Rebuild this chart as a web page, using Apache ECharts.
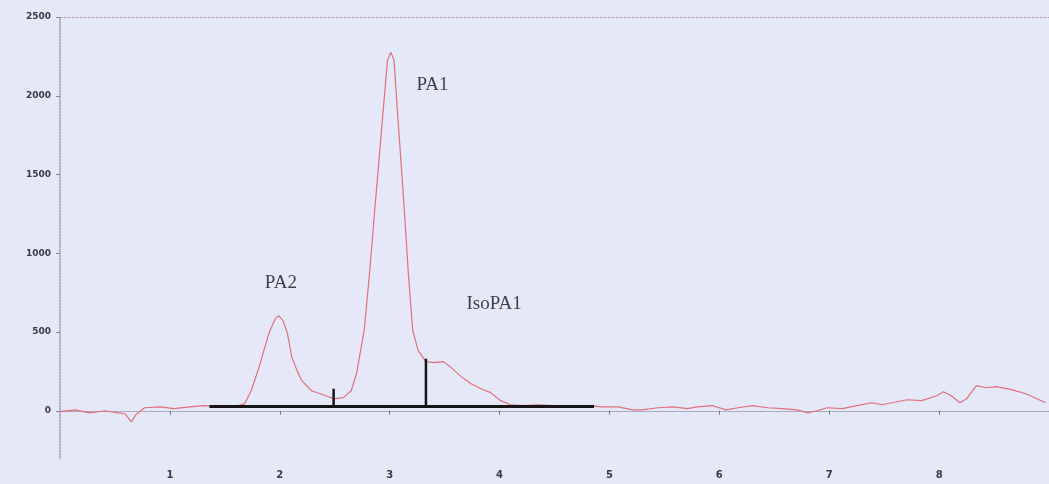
<!DOCTYPE html>
<html>
<head>
<meta charset="utf-8">
<style>
  html, body { margin: 0; padding: 0; background: #e5e8f6; }
  #chart { width: 1049px; height: 484px; }
</style>
<script src="https://cdn.jsdelivr.net/npm/echarts@6/dist/echarts.min.js"></script>
</head>
<body>
<div id="chart"></div>
<script>
// Chromatogram trace: retention time (min) and detector signal
const times = [
  0, 0.14, 0.27, 0.41, 0.53, 0.59, 0.65, 0.69, 0.77, 0.91, 1.04, 1.18, 1.31, 1.45, 1.59,
  1.68, 1.74, 1.81, 1.90, 1.96, 1.99, 2.03, 2.07, 2.11, 2.16, 2.20, 2.29, 2.42, 2.49,
  2.58, 2.65, 2.70, 2.77, 2.82, 2.86, 2.91, 2.95, 2.98, 3.01, 3.04, 3.07, 3.12, 3.15,
  3.17, 3.21, 3.26, 3.33, 3.40, 3.49, 3.55, 3.64, 3.74, 3.83, 3.92, 4.01, 4.10, 4.22,
  4.35, 4.49, 4.62, 4.80, 4.94, 5.08, 5.21, 5.30, 5.44, 5.58, 5.71, 5.80, 5.94, 6.06,
  6.17, 6.30, 6.44, 6.57, 6.71, 6.80, 6.89, 6.98, 7.12, 7.25, 7.39, 7.48, 7.57, 7.71,
  7.84, 7.98, 8.04, 8.11, 8.19, 8.25, 8.34, 8.43, 8.52, 8.66, 8.79, 8.97
];
const signal = [
  -6, 6, -13, 0, -13, -19, -70, -25, 19, 25, 13, 25, 32, 25, 25,
  45, 127, 274, 490, 585, 604, 572, 490, 340, 250, 191, 127, 95, 76,
  83, 127, 240, 520, 900, 1240, 1650, 1980, 2226, 2277, 2226, 1908, 1412, 1094,
  871, 509, 382, 312, 305, 312, 280, 223, 172, 140, 115, 64, 38, 32,
  38, 32, 25, 32, 25, 25, 6, 6, 19, 25, 13, 25, 32, 6,
  19, 32, 19, 13, 6, -13, 0, 19, 13, 32, 51, 38, 51, 70,
  64, 95, 121, 95, 51, 76, 159, 146, 153, 134, 108, 51
];

// Integration baseline and peak-split drop lines
const baselineTimes = [1.36, 4.86];
const baselineLevel = 27;
const dropTimes = [2.49, 3.33];
const dropTops = [140, 330];

// Peak names and where they are written
const peakNames = ['PA2', 'PA1', 'IsoPA1'];
const peakLabelTimes = [2.01, 3.39, 3.95];
const peakLabelLevels = [808, 2067, 680];

// Axis ticks
const xTicks = [1, 2, 3, 4, 5, 6, 7, 8];
const yTicks = [0, 500, 1000, 1500, 2000, 2500];

const trace = times.map((t, i) => [t, signal[i]]);
const baseline = baselineTimes.map(t => [t, baselineLevel]);
const drops = [];
dropTimes.forEach((t, i) => {
  drops.push([t, baselineLevel], [t, dropTops[i]], null);
});
const labels = peakNames.map((n, i) => ({ value: [peakLabelTimes[i], peakLabelLevels[i]], name: n }));

const axisGray = '#9d9db4';
const chart = echarts.init(document.getElementById('chart'), null, { renderer: 'canvas' });
chart.setOption({
  backgroundColor: '#e5e8f6',
  animation: false,
  grid: { left: 60, right: 0, top: 17, bottom: 26 },
  xAxis: [{
    type: 'value', min: 0, max: 9,
    axisLine: { show: true, lineStyle: { color: axisGray, width: 1, type: 'dotted' } },
    axisTick: { show: true, length: 4, customValues: xTicks, lineStyle: { color: '#777' } },
    axisLabel: { customValues: xTicks, formatter: v => String(v), color: '#3a3a44', fontFamily: 'DejaVu Sans', fontWeight: 'bold', fontSize: 10, margin: 12 },
    splitLine: { show: false }
  }, {
    type: 'value', min: 0, max: 9, position: 'top',
    axisLine: { show: true, lineStyle: { color: '#b59aa8', width: 1, type: [2, 2] } },
    axisTick: { show: false }, axisLabel: { show: false }, splitLine: { show: false }
  }],
  yAxis: {
    type: 'value', min: -300, max: 2500,
    axisLine: { show: true, lineStyle: { color: axisGray, width: 1.5, type: 'dotted' } },
    axisTick: { show: true, length: 4, customValues: yTicks, lineStyle: { color: '#888' } },
    axisLabel: { customValues: yTicks, formatter: v => String(v), color: '#3a3a44', fontFamily: 'DejaVu Sans', fontWeight: 'bold', fontSize: 9, margin: 9 },
    splitLine: { show: false }
  },
  series: [{
    type: 'line', data: trace, symbol: 'none', smooth: false,
    lineStyle: { color: '#e0707c', width: 1.2 }
  }, {
    type: 'line', data: baseline, symbol: 'none',
    lineStyle: { color: '#161616', width: 3 }
  }, {
    type: 'line', data: drops, symbol: 'none', connectNulls: false,
    lineStyle: { color: '#161616', width: 2.5 }
  }, {
    type: 'scatter', data: labels, symbolSize: 0,
    label: {
      show: true, position: 'inside', formatter: p => p.name,
      fontFamily: 'Liberation Serif', fontSize: 19, color: '#141418'
    }
  }]
});
</script>
</body>
</html>
